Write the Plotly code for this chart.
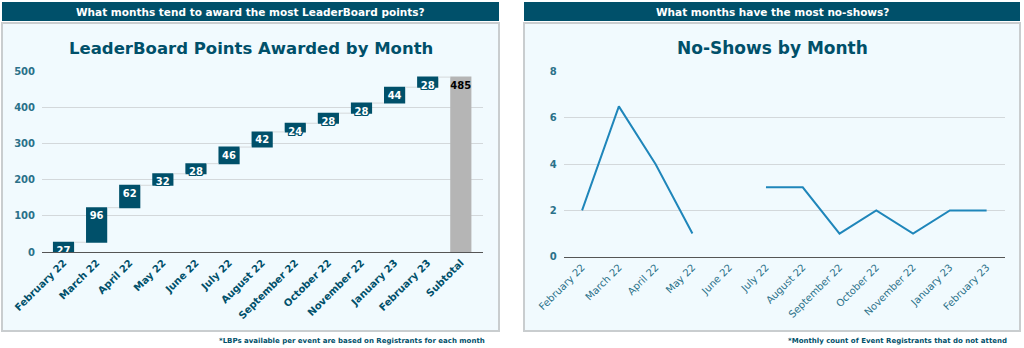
import plotly.graph_objects as go

W, H = 1024, 348

months = ["February 22", "March 22", "April 22", "May 22", "June 22", "July 22",
          "August 22", "September 22", "October 22", "November 22", "January 23", "February 23"]
lbp_values = [27, 96, 62, 32, 28, 46, 42, 24, 28, 28, 44, 28]
total_label = "Subtotal"
noshow_values = [2, 6.5, 4, 1, None, 3, 3, 1, 2, 1, 2, 2]

left_header = "What months tend to award the most LeaderBoard points?"
right_header = "What months have the most no-shows?"
left_title = "LeaderBoard Points Awarded by Month"
right_title = "No-Shows by Month"
left_note = "*LBPs available per event are based on Registrants for each month"
right_note = "*Monthly count of Event Registrants that do not attend"

DARK = "#00506A"
TICK = "#2B7189"
FONT = "DejaVu Sans"
OUTLINE = ("1px 0 0 #00506A, -1px 0 0 #00506A, 0 1px 0 #00506A, 0 -1px 0 #00506A, "
           "1px 1px 0 #00506A, -1px -1px 0 #00506A, 1px -1px 0 #00506A, -1px 1px 0 #00506A")


def px(x):
    return x / W


def py(y):
    return 1 - y / H


fig = go.Figure()

cats = months + [total_label]
fig.add_trace(go.Waterfall(
    x=cats,
    y=lbp_values + [0],
    measure=["relative"] * len(lbp_values) + ["total"],
    text=[str(v) for v in lbp_values] + [str(sum(lbp_values))],
    textposition="inside",
    insidetextanchor="end",
    constraintext="none",
    textangle=0,
    insidetextfont=dict(family=FONT, size=10, weight="bold",
                        color=["white"] * len(lbp_values) + ["black"],
                        shadow=[OUTLINE] * len(lbp_values) + ["none"]),
    increasing=dict(marker=dict(color=DARK)),
    totals=dict(marker=dict(color="#B5B5B5")),
    connector=dict(line=dict(color="#D5D9DB", width=1)),
    xaxis="x", yaxis="y",
    hoverinfo="skip",
))

fig.add_trace(go.Scatter(
    x=months, y=noshow_values, mode="lines", connectgaps=False,
    line=dict(color="#1F86BA", width=2),
    xaxis="x2", yaxis="y2", hoverinfo="skip",
))

shapes = []
for (x0, x1) in [(2, 499), (524, 1020)]:
    shapes.append(dict(type="rect", xref="paper", yref="paper",
                       x0=px(x0), x1=px(x1), y0=py(331), y1=py(23),
                       fillcolor="#F1FAFE", line=dict(color="#C9CDCF", width=2), layer="below"))
    shapes.append(dict(type="rect", xref="paper", yref="paper",
                       x0=px(x0), x1=px(x1), y0=py(21), y1=py(2),
                       fillcolor=DARK, line=dict(width=0), layer="below"))


def ann(text, x, y, size, color, xanchor="center"):
    return dict(text=text, x=px(x), y=py(y), xref="paper", yref="paper",
                xanchor=xanchor, yanchor="middle", showarrow=False,
                font=dict(family=FONT, size=size, color=color, weight="bold"))


annotations = [
    ann(left_header, 250.5, 12, 10.5, "white"),
    ann(right_header, 772, 12, 10.5, "white"),
    ann(left_title, 250.5, 48, 16.5, DARK),
    ann(right_title, 772, 48, 17, DARK),
    ann(left_note, 487, 340.5, 7, DARK, "right"),
    ann(right_note, 1009, 340.5, 7, DARK, "right"),
]

fig.update_layout(
    width=W, height=H,
    margin=dict(l=0, r=0, t=0, b=0, autoexpand=False),
    paper_bgcolor="white",
    plot_bgcolor="rgba(0,0,0,0)",
    showlegend=False,
    waterfallgap=0.36,
    shapes=shapes,
    annotations=annotations,
    xaxis=dict(domain=[px(42), px(483)], anchor="y", range=[-0.65, 12.67],
               tickangle=-45, showline=True, linecolor="#555555", linewidth=1,
               showgrid=False, ticks="", automargin=False,
               tickfont=dict(family=FONT, size=10, color=DARK, weight="bold")),
    yaxis=dict(domain=[py(252), py(71.7)], anchor="x", range=[0, 500], dtick=100,
               showgrid=True, gridcolor="#D3D8DB", gridwidth=1, zeroline=False,
               ticks="outside", ticklen=4, tickcolor="rgba(0,0,0,0)", automargin=False,
               tickfont=dict(family=FONT, size=10, color=TICK, weight="bold")),
    xaxis2=dict(domain=[px(563.7), px(1005)], anchor="y2", range=[-0.5, 11.5],
                tickangle=-45, showline=True, linecolor="#555555", linewidth=1,
                showgrid=False, ticks="", automargin=False,
                tickfont=dict(family=FONT, size=10, color=TICK)),
    yaxis2=dict(domain=[py(256.7), py(71.7)], anchor="x2", range=[0, 8], dtick=2,
                showgrid=True, gridcolor="#D3D8DB", gridwidth=1, zeroline=False,
                ticks="outside", ticklen=4, tickcolor="rgba(0,0,0,0)", automargin=False,
                tickfont=dict(family=FONT, size=10, color=TICK, weight="bold")),
)

fig.write_html("out.html")
